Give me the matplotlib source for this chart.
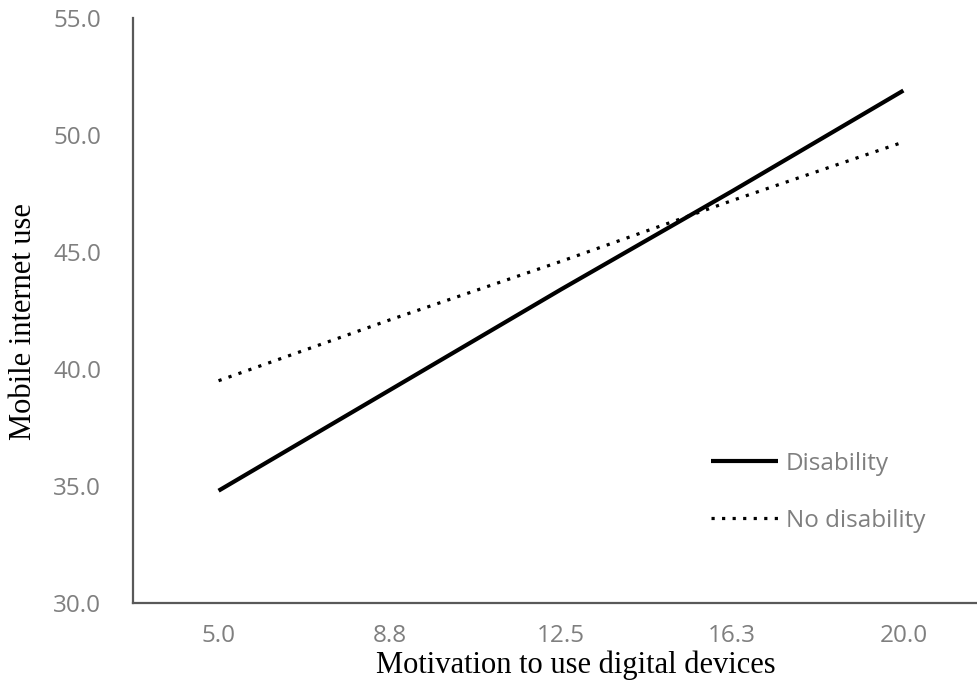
import matplotlib.pyplot as plt

# category axis, values
x_labels = ["5.0", "8.8", "12.5", "16.3", "20.0"]
disability = [34.8, 39.1, 43.4, 47.6, 51.9]
no_disability = [39.5, 42.1, 44.6, 47.2, 49.7]
y_ticks = [30.0, 35.0, 40.0, 45.0, 50.0, 55.0]

tick_grey = "#7f7f7f"
axis_grey = "#595959"

fig = plt.figure(figsize=(9.77, 6.82), dpi=100)
ax = fig.add_axes([0.1361, 0.1158, 0.8639, 0.8578])

xpos = list(range(len(x_labels)))
ax.plot(xpos, disability, color="black", linewidth=3.0, solid_capstyle="butt", label="Disability")
ax.plot(xpos, no_disability, color="black", linewidth=2.3, linestyle=(0, (1, 2.3)), label="No disability")

ax.set_xlim(-0.5, 4.43)
ax.set_ylim(30, 55)
ax.set_xticks(xpos)
ax.set_xticklabels(x_labels)
ax.set_yticks(y_ticks)
ax.set_yticklabels([f"{v:.1f}" for v in y_ticks])

for lab in ax.get_xticklabels() + ax.get_yticklabels():
    lab.set_fontfamily("Open Sans")
    lab.set_fontsize(17.5)
    lab.set_color(tick_grey)
ax.tick_params(axis="x", length=0, pad=15)
ax.tick_params(axis="y", length=0, pad=23)

for side in ["top", "right"]:
    ax.spines[side].set_visible(False)
for side in ["left", "bottom"]:
    ax.spines[side].set_color(axis_grey)
    ax.spines[side].set_linewidth(1.6)

fig.text(0.024, 0.528, "Mobile internet use", rotation=90, ha="center", va="center",
         family="Liberation Serif", fontsize=22, color="black")
fig.text(0.589, 0.025, "Motivation to use digital devices", ha="center", va="center",
         family="Liberation Serif", fontsize=22, color="black")

leg = ax.legend(loc="upper left", bbox_to_anchor=(711 / 977, 1 - 452 / 682),
                bbox_transform=fig.transFigure, frameon=False,
                prop={"family": "Open Sans", "size": 17.5},
                handlelength=2.75, handletextpad=0.33, labelspacing=1.34,
                borderpad=0, borderaxespad=0)
for t in leg.get_texts():
    t.set_color(tick_grey)

fig.savefig("out.png", dpi=100)
